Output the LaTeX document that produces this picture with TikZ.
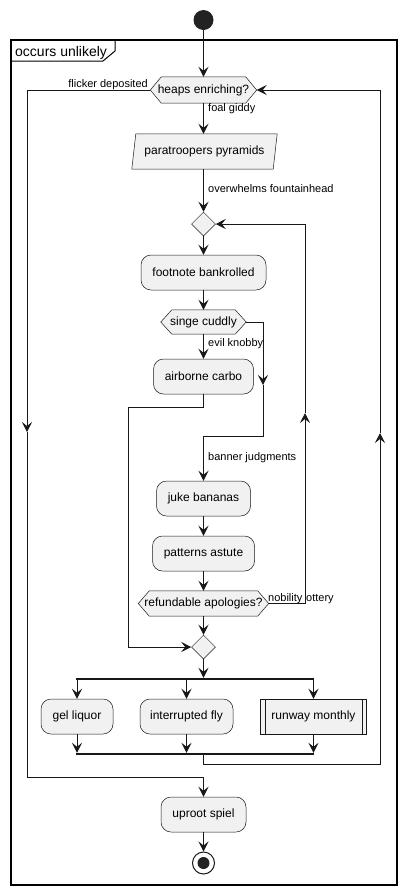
\documentclass[tikz,border=0pt]{standalone}
\usepackage{fontspec}
\setmainfont{Liberation Sans}
\usetikzlibrary{arrows.meta,backgrounds,calc,shapes.geometric}
\definecolor{bf}{HTML}{F1F1F1}
\definecolor{bc}{HTML}{181818}
\definecolor{lc}{HTML}{181818}
\definecolor{dot}{HTML}{222222}
\begin{document}
\begin{tikzpicture}[x=1pt,y=-1pt]
\tikzset{
 lnk/.style={draw=lc, line width=1pt},
 arr/.style={lnk, -{Stealth[length=10pt,width=10pt,inset=4pt]}},
 txt/.style={font=\fontsize{12}{14}\selectfont, text=black},
 lbl/.style={font=\fontsize{11}{13}\selectfont, inner sep=0pt, text=black},
 actbox/.style={txt, draw=bc, fill=bf, line width=0.5pt, rounded corners=10pt, minimum height=35pt, inner sep=0pt},
 subbox/.style={txt, draw=bc, fill=bf, line width=0.5pt, minimum height=35pt, inner sep=0pt},
 hexnode/.style={txt, inner sep=0pt},
 shapeline/.style={draw=bc, fill=bf, line width=0.5pt},
 merge/.style={diamond, draw=bc, fill=bf, line width=0.5pt, minimum width=24pt, minimum height=24pt, inner sep=0pt, aspect=1},
 barnode/.style={fill=lc, minimum width=238pt, minimum height=2pt, inner sep=0pt},
}
\useasboundingbox (0,0) rectangle (406,895);

% frame
\draw[line width=1.5pt, draw=black] (11,40) rectangle (397,885);
\draw[line width=1pt, draw=black] (11,61) -- (103,61) -- (115,51) -- (115,40);
\node[font=\fontsize{14}{16}\selectfont, anchor=base west, inner sep=0pt] (title) at (15,56) {occurs unlikely};

% nodes
\node[circle, fill=dot, minimum size=20pt, inner sep=0pt] (start) at (203.5,20) {};
\node[hexnode, minimum width=106pt, minimum height=26pt] (heaps) at (203.5,90) {heaps enriching?};
\node[hexnode, minimum width=137pt, minimum height=35pt] (para) at (204.5,151.5) {paratroopers pyramids};
\node[merge] (m1) at (203.5,224) {};
\node[actbox, minimum width=125pt] (foot) at (203.5,272.5) {footnote bankrolled};
\node[hexnode, minimum width=85pt, minimum height=24pt] (singe) at (203.5,322) {singe cuddly};
\node[actbox, minimum width=100pt] (air) at (203.5,376.5) {airborne carbo};
\node[actbox, minimum width=94pt] (juke) at (203.5,498.5) {juke bananas};
\node[actbox, minimum width=102pt] (pat) at (203.5,553.5) {patterns astute};
\node[hexnode, minimum width=130pt, minimum height=25pt] (refund) at (203.5,603.5) {refundable apologies?};
\node[merge] (m2) at (203.5,647) {};
\node[barnode] (fork) at (195,679) {};
\node[actbox, minimum width=72pt] (gel) at (77,716.5) {gel liquor};
\node[actbox, minimum width=93pt] (intr) at (186.5,716.5) {interrupted fly};
\node[subbox, minimum width=106pt] (run) at (313.5,716.5) {runway monthly};
\node[barnode] (join) at (195,754) {};
\node[actbox, minimum width=85pt] (upr) at (203.5,814.5) {uproot spiel};
\node[circle, draw=lc, line width=1pt, fill=white, minimum size=22pt, inner sep=0pt] (stop) at (203.5,863) {};
\fill[dot] (stop.center) circle (6pt);

\draw[bc, line width=0.5pt] ([xshift=5pt]run.north west) -- ([xshift=5pt]run.south west);
\draw[bc, line width=0.5pt] ([xshift=-5pt]run.north east) -- ([xshift=-5pt]run.south east);

\begin{scope}[on background layer]
\path[shapeline] (heaps.west) -- ([xshift=11pt]heaps.north west) -- ([xshift=-11pt]heaps.north east) -- (heaps.east) -- ([xshift=-11pt]heaps.south east) -- ([xshift=11pt]heaps.south west) -- cycle;
\path[shapeline] (singe.west) -- ([xshift=11pt]singe.north west) -- ([xshift=-11pt]singe.north east) -- (singe.east) -- ([xshift=-11pt]singe.south east) -- ([xshift=11pt]singe.south west) -- cycle;
\path[shapeline] (refund.west) -- ([xshift=11pt]refund.north west) -- ([xshift=-11pt]refund.north east) -- (refund.east) -- ([xshift=-11pt]refund.south east) -- ([xshift=11pt]refund.south west) -- cycle;
\path[shapeline] (para.north west) -- ([xshift=4pt]para.north east) -- (para.south east) -- ([xshift=-4pt]para.south west) -- cycle;
\end{scope}

% coordinates for bends
\coordinate (lmid) at (27,432);
\coordinate (lbot) at (27,777);
\coordinate (rbot) at (380,764);
\coordinate (rmid) at (380,433);
\coordinate (imid) at (305,413);
\coordinate (smid) at (263,385);
\coordinate (sbot) at (263,436);
\coordinate (abend) at (128,407);

% straight connectors
\draw[arr] (start.south) -- (heaps.north);
\draw[arr] (heaps.south) -- (heaps.south |- para.north);
\draw[arr] (heaps.south |- para.south) -- (m1.north);
\draw[arr] (m1.south) -- (foot.north);
\draw[arr] (foot.south) -- (singe.north);
\draw[arr] (singe.south) -- (air.north);
\draw[arr] (juke.south) -- (pat.north);
\draw[arr] (pat.south) -- (refund.north);
\draw[arr] (refund.south) -- (m2.north);
\draw[arr] (m2.south) -- (m2.south |- fork.north);
\draw[arr] (fork.south -| gel.north) -- (gel.north);
\draw[arr] (fork.south -| intr.north) -- (intr.north);
\draw[arr] (fork.south -| run.north) -- (run.north);
\draw[arr] (gel.south) -- (gel.south |- join.north);
\draw[arr] (intr.south) -- (intr.south |- join.north);
\draw[arr] (run.south) -- (run.south |- join.north);
\draw[arr] (upr.south) -- (stop.north);

% loops and branches
\draw[arr] (heaps.west) -| (lmid);
\draw[arr] (lmid) -- (lbot) -| (upr.north);
\draw[arr] (join.south -| upr.north) |- (rbot) -- (rmid);
\draw[arr] (rmid) |- (heaps.east);
\draw[arr] (refund.east) -| (imid);
\draw[arr] (imid) |- (m1.east);
\draw[arr] (singe.east) -| (smid);
\draw[arr] (smid) -- (sbot) -| (juke.north);
\draw[arr] (air.south) |- (abend) |- (m2.west);

% labels
\node[lbl, anchor=base east] (l1) at (148,87) {flicker deposited};
\node[lbl, anchor=base west] (l2) at (208,111) {foal giddy};
\node[lbl, anchor=base west] (l3) at (208,192) {overwhelms fountainhead};
\node[lbl, anchor=base west] (l4) at (208,346) {evil knobby};
\node[lbl, anchor=base west] (l5) at (208,460) {banner judgments};
\node[lbl, anchor=base west] (l6) at (268,601) {nobility};
\node[lbl, anchor=base west] (l7) at (306,601) {ottery};
\end{tikzpicture}
\end{document}
